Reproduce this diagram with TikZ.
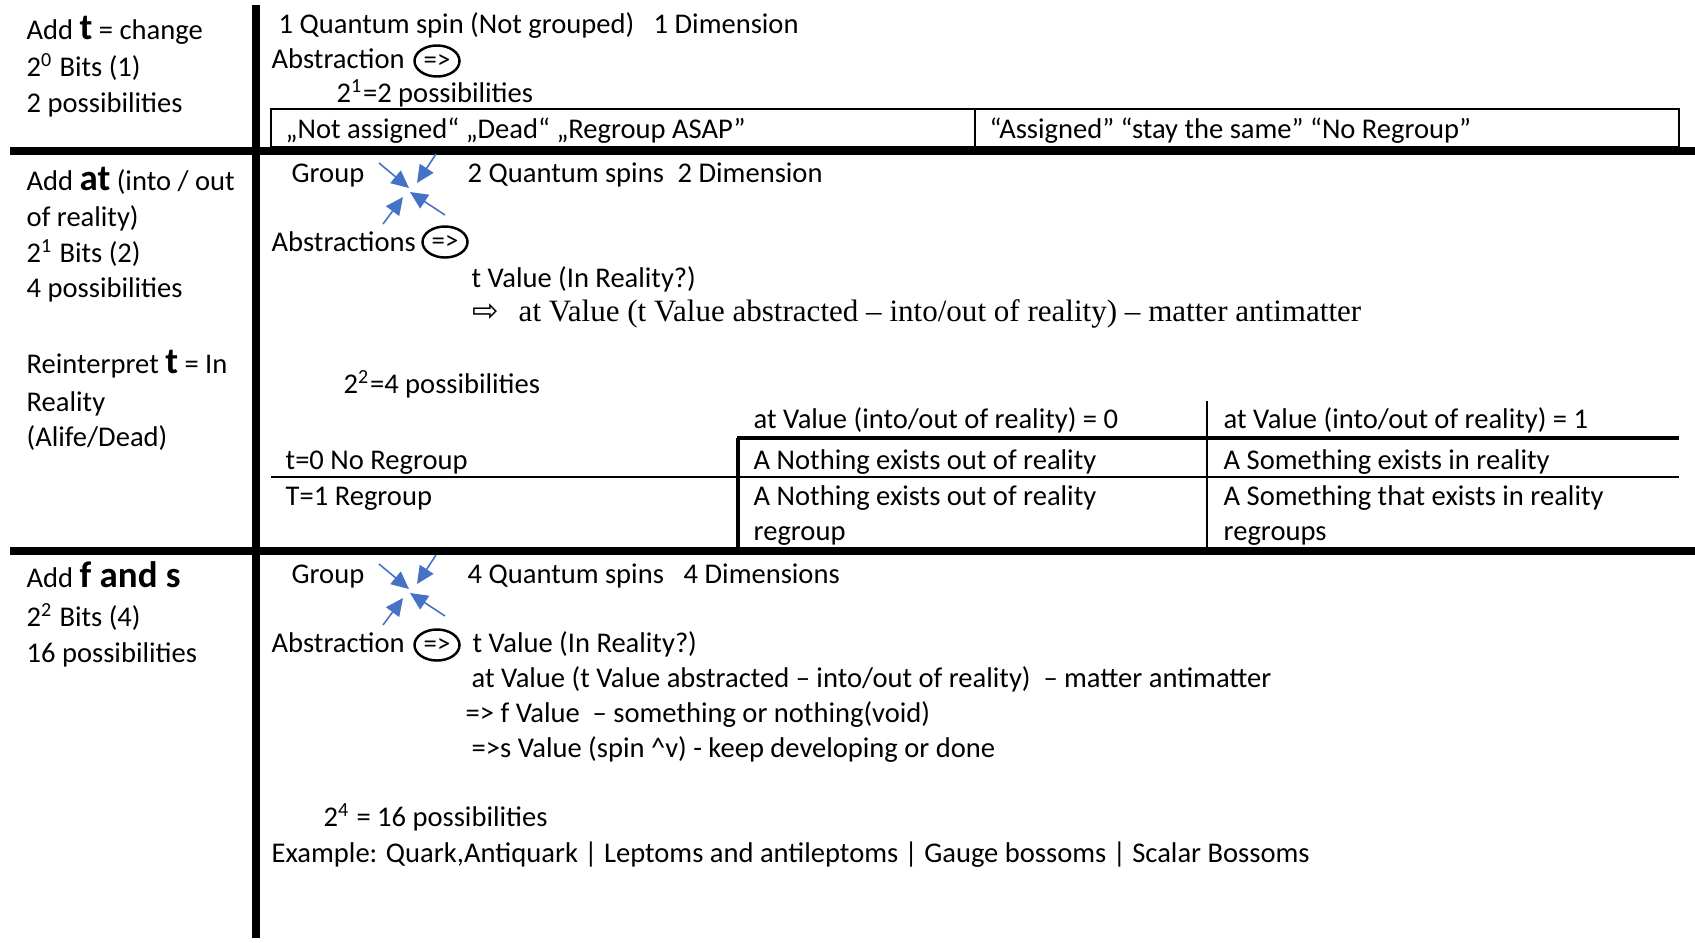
\documentclass[tikz,border=0pt]{standalone}
\usepackage{fontspec}
\setmainfont{Carlito}
\newfontfamily\timesfont{Liberation Serif}
\newfontfamily\symfont{DejaVu Sans}
\usetikzlibrary{arrows.meta, shapes.geometric}
\definecolor{arrowblue}{HTML}{4472C4}

\tikzset{
  txt/.style={anchor=base west, inner sep=0pt, font=\fontsize{8.12}{10}\selectfont},
  sertxt/.style={anchor=base west, inner sep=0pt, font=\fontsize{8.83}{10}\timesfont},
  absym/.style={ellipse, draw, line width=0.7pt, minimum width=0.45cm, minimum height=0.31cm, inner sep=0pt, font=\fontsize{7.6}{8}\selectfont},
  grouparrow/.style={->, draw=arrowblue, fill=arrowblue, line width=0.45pt},
  bar/.style={line width=2.3pt},
  thinrule/.style={line width=0.6pt},
  thickrule/.style={line width=1.4pt}
}
\newcommand{\bigbold}[1]{{\fontsize{10.5}{11}\selectfont\bfseries #1}}

\begin{document}
\begin{tikzpicture}[x=0.01cm, y=-0.01cm, >={Triangle[length=5pt,width=4.6pt]}]
  \useasboundingbox (0,0) rectangle (1695,942);

  % Frame of the table
  \draw[bar] (256,5) -- (256,938);
  \draw[bar] (10,151) -- (1695,151);
  \draw[bar] (10,551) -- (1695,551);

  % Left column
  \node[txt] (l1a) at (26,39) {Add \bigbold{t} = change};
  \node[txt] (l1b) at (26,76) {2\textsuperscript{0} Bits (1)};
  \node[txt] (l1c) at (26,112) {2 possibilities};
  \node[txt] (l2a) at (26,190) {Add \bigbold{at} (into / out};
  \node[txt] (l2b) at (26,226) {of reality)};
  \node[txt] (l2c) at (26,262) {2\textsuperscript{1} Bits (2)};
  \node[txt] (l2d) at (26,297) {4 possibilities};
  \node[txt] (l2e) at (26,373) {Reinterpret \bigbold{t} = In};
  \node[txt] (l2f) at (26,411) {Reality};
  \node[txt] (l2g) at (26,446) {(Alife/Dead)};
  \node[txt] (l3a) at (26,587) {Add \bigbold{f and s}};
  \node[txt] (l3b) at (26,626) {2\textsuperscript{2} Bits (4)};
  \node[txt] (l3c) at (26,662) {16 possibilities};

  % First row
  \node[txt] (spin1) at (278,33) {1 Quantum spin (Not grouped)};
  \node[txt] (dim1) at (653,33) {1 Dimension};
  \node[txt] (abs1) at (271,68) {Abstraction};
  \node[absym] (imp1) at (437,61) {=>};
  \node[txt] (pos1) at (336,102) {2\textsuperscript{1}=2 possibilities};
  \draw[line width=0.7pt] (271,109) rectangle (1679,147);
  \draw[line width=0.7pt] (975,109) -- (975,147);
  \node[txt] (no1) at (285,138) {„Not assigned“ „Dead“ „Regroup ASAP”};
  \node[txt] (yes1) at (989,138) {“Assigned” “stay the same” “No Regroup”};

  % Second row
  \node[txt] (grp2) at (291,182) {Group};
  \node[txt] (spin2) at (467,182) {2 Quantum spins};
  \node[txt] (dim2) at (677,182) {2 Dimension};
  \coordinate (a2ul) at (379,163); \coordinate (t2ul) at (409,188);
  \coordinate (a2ur) at (436,154); \coordinate (t2ur) at (417,183);
  \coordinate (a2ll) at (383,224); \coordinate (t2ll) at (403,197);
  \coordinate (a2lr) at (445,215); \coordinate (t2lr) at (410,192);
  \draw[grouparrow] (a2ul) -- (t2ul);
  \draw[grouparrow] (a2ur) -- (t2ur);
  \draw[grouparrow] (a2ll) -- (t2ll);
  \draw[grouparrow] (a2lr) -- (t2lr);
  \node[txt] (abs2) at (271,251) {Abstractions};
  \node[absym] (imp2) at (445,242) {=>};
  \node[txt] (tval2) at (471,287) {t Value (In Reality?)};
  \node[anchor=base west, inner sep=0pt, font=\fontsize{9}{9}\symfont] (arr2) at (472,321) {⇨};
  \node[sertxt] (atval2) at (518,321) {at Value (t Value abstracted – into/out of reality) – matter antimatter};
  \node[txt] (pos2) at (343,393) {2\textsuperscript{2}=4 possibilities};

  % Truth table
  \draw[thinrule] (1207,401) -- (1207,549);
  \draw[thickrule] (737,438) -- (1679,438);
  \draw[thickrule] (738,438) -- (738,549);
  \draw[thinrule] (271,477) -- (1679,477);
  \node[txt] (hd0) at (753,428) {at Value (into/out of reality) = 0};
  \node[txt] (hd1) at (1223,428) {at Value (into/out of reality) = 1};
  \node[txt] (r0) at (285,469) {t=0 No Regroup};
  \node[txt] (r0c0) at (753,469) {A Nothing exists out of reality};
  \node[txt] (r0c1) at (1223,469) {A Something exists in reality};
  \node[txt] (r1) at (285,505) {T=1 Regroup};
  \node[txt] (r1c0) at (753,505) {A Nothing exists out of reality};
  \node[txt] (r1c0b) at (753,540) {regroup};
  \node[txt] (r1c1) at (1223,505) {A Something that exists in reality};
  \node[txt] (r1c1b) at (1223,540) {regroups};

  % Third row
  \node[txt] (grp3) at (291,583) {Group};
  \node[txt] (spin3) at (467,583) {4 Quantum spins};
  \node[txt] (dim3) at (683,583) {4 Dimensions};
  \coordinate (a3ul) at (379,564); \coordinate (t3ul) at (409,589);
  \coordinate (a3ur) at (436,555); \coordinate (t3ur) at (417,584);
  \coordinate (a3ll) at (383,625); \coordinate (t3ll) at (403,598);
  \coordinate (a3lr) at (445,616); \coordinate (t3lr) at (410,593);
  \draw[grouparrow] (a3ul) -- (t3ul);
  \draw[grouparrow] (a3ur) -- (t3ur);
  \draw[grouparrow] (a3ll) -- (t3ll);
  \draw[grouparrow] (a3lr) -- (t3lr);
  \node[txt] (abs3) at (271,652) {Abstraction};
  \node[absym] (imp3) at (437,645) {=>};
  \node[txt] (tval3) at (472,652) {t Value (In Reality?)};
  \node[txt] (atval3) at (471,687) {at Value (t Value abstracted – into/out of reality)\ \ – matter antimatter};
  \node[txt] (fval3) at (465,722) {=> f Value\ \ – something or nothing(void)};
  \node[txt] (sval3) at (471,757) {=>s Value (spin \textasciicircum v) - keep developing or done};
  \node[txt] (pos3) at (323,826) {2\textsuperscript{4} = 16 possibilities};
  \node[txt] (ex3) at (271,862) {Example: Quark,Antiquark | Leptoms and antileptoms | Gauge bossoms | Scalar Bossoms};
\end{tikzpicture}
\end{document}
